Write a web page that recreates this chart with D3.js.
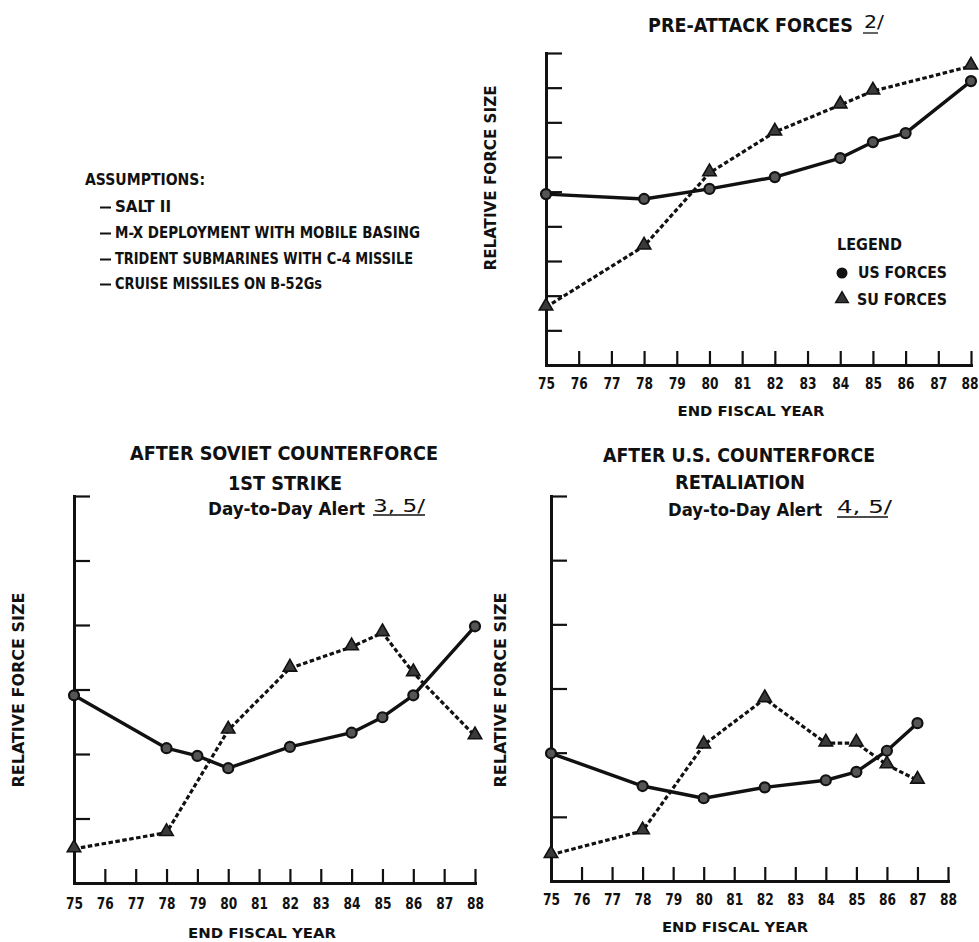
<!DOCTYPE html>
<html><head><meta charset="utf-8">
<script src="https://cdn.jsdelivr.net/npm/d3@7"></script>
<style>body{margin:0;background:#fff}svg{display:block}</style>
</head><body>
<script>
// ---------------- DATA ----------------
const years = [75,76,77,78,79,80,81,82,83,84,85,86,87,88];
const yearLabels = ["75","76","77","78","79","80","81","82","83","84","85","86","87","88"];

// Pre-attack forces
const preUSYears = [75,78,80,82,84,85,86,88];
const preUS      = [4.93,4.79,5.08,5.42,5.97,6.43,6.69,8.19];
const preSUYears = [75,78,80,82,84,85,88];
const preSU      = [1.67,3.43,5.54,6.72,7.50,7.90,8.62];

// After Soviet counterforce 1st strike
const sovUSYears = [75,78,79,80,82,84,85,86,88];
const sovUS      = [2.91,2.09,1.97,1.78,2.11,2.33,2.57,2.91,3.98];
const sovSUYears = [75,78,80,82,84,85,86,88];
const sovSU      = [0.53,0.78,2.37,3.33,3.66,3.88,3.26,2.28];

// After U.S. counterforce retaliation
const retUSYears = [75,78,80,82,84,85,86,87];
const retUS      = [1.99,1.48,1.29,1.46,1.57,1.70,2.03,2.46];
const retSUYears = [75,78,80,82,84,85,86,87];
const retSU      = [0.41,0.78,2.12,2.84,2.15,2.15,1.81,1.57];

const assumptionsTitle = "ASSUMPTIONS:";
const assumptions = ["SALT II","M-X DEPLOYMENT WITH MOBILE BASING","TRIDENT SUBMARINES WITH C-4 MISSILE","CRUISE MISSILES ON B-52Gs"];
const legendLabels = ["US FORCES","SU FORCES"];

// ---------------- DRAW ----------------
const W = 979, H = 942;
const INK = "#111";
const FONT = "'Liberation Sans Narrow','DejaVu Sans Condensed','Arial Narrow',sans-serif";
const svg = d3.select("body").append("svg").attr("width", W).attr("height", H)
  .style("font-family", FONT);

function txt(s, x, y, o = {}) {
  const t = svg.append("text").attr("x", x).attr("y", y).attr("dy", "0.36em")
    .attr("fill", INK).attr("font-size", o.size || 15)
    .attr("font-weight", o.weight || "bold")
    .attr("text-anchor", o.anchor || "start").text(s);
  if (o.len) t.attr("textLength", o.len).attr("lengthAdjust", "spacingAndGlyphs");
  if (o.rotate) t.attr("transform", `rotate(-90,${x},${y})`);
  return t;
}
function underline(x1, x2, y, w) {
  svg.append("line").attr("x1", x1).attr("x2", x2).attr("y1", y).attr("y2", y)
    .attr("stroke", INK).attr("stroke-width", w || 1.3);
}

function panel(cfg) {
  const x = d3.scaleLinear().domain([75, 88]).range([cfg.left, cfg.right]);
  const y = d3.scaleLinear().domain([0, cfg.ymax]).range([cfg.bottom, cfg.top]);
  const g = svg.append("g");

  const ya = g.append("g").attr("transform", `translate(${cfg.left},0)`)
    .call(d3.axisLeft(y).tickValues(d3.range(1, cfg.ymax + 1)).tickSizeInner(-16).tickSizeOuter(0).tickFormat(""));
  const xa = g.append("g").attr("transform", `translate(0,${cfg.bottom})`)
    .call(d3.axisBottom(x).tickValues(years).tickSizeInner(-14).tickSizeOuter(0).tickPadding(cfg.pad)
      .tickFormat((d, i) => yearLabels[i]));
  [ya, xa].forEach(a => {
    a.select(".domain").attr("stroke", INK).attr("stroke-width", 3).attr("stroke-linecap", "square");
    a.selectAll(".tick line").attr("stroke", INK).attr("stroke-width", 2.2);
  });
  xa.selectAll(".tick text").attr("fill", INK).attr("font-size", 15).attr("font-weight", "bold")
    .style("font-family", FONT).attr("textLength", 17).attr("lengthAdjust", "spacingAndGlyphs")
    .attr("dx", d => d === 88 && cfg.right > 960 ? -1.5 : 0);
  xa.select(".tick line").remove();

  const line = d3.line().x(d => x(d[0])).y(d => y(d[1]));
  const us = d3.zip(cfg.usYears, cfg.us);
  const su = d3.zip(cfg.suYears, cfg.su);
  g.append("path").datum(su).attr("d", line).attr("fill", "none").attr("stroke", INK)
    .attr("stroke-width", 3.2).attr("stroke-dasharray", "4.5,2.5");
  g.append("path").datum(us).attr("d", line).attr("fill", "none").attr("stroke", INK)
    .attr("stroke-width", 3.4).attr("stroke-linejoin", "round");
  g.selectAll(".su").data(su).join("path").attr("class", "su")
    .attr("transform", d => `translate(${x(d[0])},${y(d[1]) - 1})`)
    .attr("d", d3.symbol(d3.symbolTriangle, 78)).attr("fill", "#3a3a3a").attr("stroke", INK).attr("stroke-width", 1.6);
  g.selectAll(".us").data(us).join("circle").attr("class", "us")
    .attr("cx", d => x(d[0])).attr("cy", d => y(d[1])).attr("r", 5)
    .attr("fill", "#555").attr("stroke", INK).attr("stroke-width", 2.2);
}

panel({left: 546, right: 971, top: 53, bottom: 365, ymax: 9, pad: 13,
  usYears: preUSYears, us: preUS, suYears: preSUYears, su: preSU});
panel({left: 74, right: 475, top: 496, bottom: 883, ymax: 6, pad: 15,
  usYears: sovUSYears, us: sovUS, suYears: sovSUYears, su: sovSU});
panel({left: 551, right: 948, top: 496, bottom: 881, ymax: 6, pad: 13,
  usYears: retUSYears, us: retUS, suYears: retSUYears, su: retSU});

// Top panel texts
txt("PRE-ATTACK FORCES", 648, 25, {size: 19, len: 205});
txt("2/", 864, 22, {size: 17, weight: "normal", len: 20});
underline(863, 878, 33);
txt("RELATIVE FORCE SIZE", 491, 178, {size: 15, anchor: "middle", rotate: true, len: 185});
txt("END FISCAL YEAR", 751, 411, {size: 14, anchor: "middle", len: 147});

// Legend
txt("LEGEND", 837, 245, {size: 15, len: 65});
svg.append("circle").attr("cx", 842).attr("cy", 273).attr("r", 5.5).attr("fill", INK);
txt(legendLabels[0], 858, 273, {size: 15, len: 89});
svg.append("path").attr("transform", "translate(842,299)").attr("d", d3.symbol(d3.symbolTriangle, 70))
  .attr("fill", "#333").attr("stroke", INK).attr("stroke-width", 1.4);
txt(legendLabels[1], 857, 300, {size: 15, len: 90});

// Assumptions
txt(assumptionsTitle, 85, 180, {size: 15, len: 120});
const aLens = [56, 305, 298, 207];
const aY = [207, 233, 259, 284];
assumptions.forEach((s, i) => {
  underline(100, 111, aY[i] + 0.5, 2);
  txt(s, 115, aY[i], {size: 15, len: aLens[i]});
});

// Bottom-left texts
txt("AFTER SOVIET COUNTERFORCE", 130, 453, {size: 19, len: 308});
txt("1ST STRIKE", 228, 483, {size: 19, len: 114});
txt("Day-to-Day Alert", 208, 509, {size: 18, len: 157});
txt("3, 5/", 373, 506, {size: 17, weight: "normal", len: 52});
underline(373, 425, 515);
txt("RELATIVE FORCE SIZE", 19, 690, {size: 15, anchor: "middle", rotate: true, len: 195});
txt("END FISCAL YEAR", 262, 933, {size: 14, anchor: "middle", len: 148});

// Bottom-right texts
txt("AFTER U.S. COUNTERFORCE", 603, 455, {size: 19, len: 272});
txt("RETALIATION", 675, 482, {size: 19, len: 130});
txt("Day-to-Day Alert", 668, 510, {size: 18, len: 154});
txt("4, 5/", 837, 507, {size: 17, weight: "normal", len: 55});
underline(837, 888, 517);
txt("RELATIVE FORCE SIZE", 501, 690, {size: 15, anchor: "middle", rotate: true, len: 195});
txt("END FISCAL YEAR", 735, 927, {size: 14, anchor: "middle", len: 146});
</script>
</body></html>
